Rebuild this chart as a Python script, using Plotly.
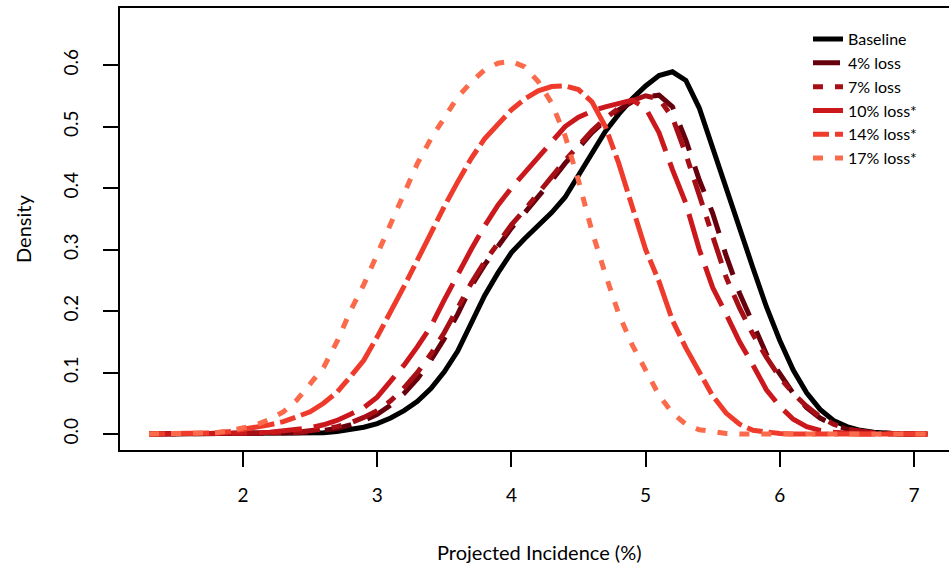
import plotly.graph_objects as go

# x grid (Projected Incidence, %)
x_vals = [round(1.3 + 0.1 * i, 1) for i in range(59)]

baseline = [0, 0, 0, 0, 0, 0, 0, 0, 0, 0, 0, 0,            # 1.3-2.4
            0.001, 0.002, 0.004, 0.007, 0.011, 0.017, 0.026, 0.038, 0.053, 0.074,   # 2.5-3.4
            0.101, 0.135, 0.18, 0.225, 0.262, 0.295, 0.318, 0.34, 0.36, 0.385,     # 3.5-4.4
            0.42, 0.458, 0.492, 0.52, 0.545, 0.566, 0.583, 0.589, 0.575, 0.53,     # 4.5-5.4
            0.465, 0.4, 0.33, 0.27, 0.207, 0.152, 0.104, 0.067, 0.04, 0.022,       # 5.5-6.4
            0.012, 0.006, 0.003, 0.001, 0, 0, 0]                                   # 6.5-7.1

loss4 = [0, 0, 0, 0, 0, 0, 0, 0, 0, 0,                      # 1.3-2.2
         0.001, 0.002, 0.003, 0.005, 0.009, 0.015, 0.022, 0.032, 0.047, 0.066,    # 2.3-3.2
         0.09, 0.12, 0.155, 0.195, 0.24, 0.275, 0.305, 0.335, 0.36, 0.385,        # 3.3-4.2
         0.412, 0.44, 0.465, 0.49, 0.51, 0.527, 0.54, 0.548, 0.551, 0.532,        # 4.3-5.2
         0.478, 0.413, 0.359, 0.29, 0.229, 0.178, 0.13, 0.098, 0.066, 0.043,     # 5.3-6.2
         0.026, 0.015, 0.008, 0.004, 0.002, 0.001, 0, 0, 0]                       # 6.3-7.1

loss7 = [0, 0, 0, 0, 0, 0, 0, 0, 0,                         # 1.3-2.1
         0.001, 0.002, 0.003, 0.005, 0.008, 0.012, 0.018, 0.027, 0.038, 0.054,   # 2.2-3.1
         0.075, 0.1, 0.13, 0.165, 0.205, 0.245, 0.28, 0.31, 0.34, 0.365,         # 3.2-4.1
         0.39, 0.418, 0.445, 0.47, 0.493, 0.513, 0.53, 0.542, 0.55, 0.545,       # 4.2-5.1
         0.515, 0.455, 0.39, 0.322, 0.255, 0.205, 0.162, 0.125, 0.092, 0.066,    # 5.2-6.1
         0.045, 0.028, 0.016, 0.008, 0.004, 0.002, 0.001, 0, 0, 0]               # 6.2-7.1

loss10 = [0, 0, 0, 0, 0, 0, 0,                              # 1.3-1.9
          0.001, 0.002, 0.003, 0.005, 0.007, 0.01, 0.015, 0.022, 0.032, 0.043,   # 2.0-2.9
          0.06, 0.085, 0.112, 0.142, 0.175, 0.218, 0.26, 0.3, 0.338, 0.372,      # 3.0-3.9
          0.4, 0.425, 0.452, 0.478, 0.5, 0.515, 0.525, 0.532, 0.538, 0.543,      # 4.0-4.9
          0.53, 0.49, 0.43, 0.375, 0.3, 0.238, 0.195, 0.15, 0.112, 0.072,       # 5.0-5.9
          0.045, 0.024, 0.012, 0.006, 0.003, 0.001, 0, 0, 0, 0, 0, 0]            # 6.0-7.1

loss14 = [0, 0, 0, 0, 0,                                    # 1.3-1.7
          0.002, 0.004, 0.007, 0.011, 0.015, 0.02, 0.028, 0.036, 0.05, 0.068,    # 1.8-2.7
          0.093, 0.12, 0.158, 0.198, 0.24, 0.283, 0.327, 0.37, 0.41, 0.448,      # 2.8-3.7
          0.48, 0.505, 0.527, 0.545, 0.558, 0.565, 0.566, 0.56, 0.54, 0.5,       # 3.8-4.7
          0.44, 0.37, 0.3, 0.248, 0.185, 0.14, 0.099, 0.062, 0.034, 0.016,      # 4.8-5.7
          0.006, 0.003, 0.001, 0, 0, 0, 0, 0, 0, 0, 0, 0, 0, 0]                  # 5.8-7.1

loss17 = [0, 0, 0.001, 0.001, 0.002, 0.002, 0.005,          # 1.3-1.9
          0.009, 0.015, 0.024, 0.036, 0.055, 0.08, 0.108, 0.15, 0.2, 0.243,      # 2.0-2.9
          0.293, 0.345, 0.395, 0.44, 0.48, 0.515, 0.548, 0.572, 0.592, 0.603,    # 3.0-3.9
          0.606, 0.597, 0.573, 0.538, 0.485, 0.412, 0.33, 0.26, 0.195, 0.145,    # 4.0-4.9
          0.104, 0.063, 0.034, 0.016, 0.007, 0.003, 0.001, 0, 0, 0,              # 5.0-5.9
          0, 0, 0, 0, 0, 0, 0, 0, 0, 0, 0, 0]                                     # 6.0-7.1

series_names = ["Baseline", "4% loss", "7% loss", "10% loss*", "14% loss*", "17% loss*"]
series_values = [baseline, loss4, loss7, loss10, loss14, loss17]
series_colors = ["#000000", "#67000D", "#A50F15", "#CB181D", "#EF3B2C", "#FB6A4A"]
series_dashes = ["solid",
                 "27px,17px",
                 "10px,12px,27px,12px",
                 "43px,12px",
                 "16px,6px,38px,6px",
                 "10px,12px"]

x_ticks = [2, 3, 4, 5, 6, 7]
y_ticks = [0.0, 0.1, 0.2, 0.3, 0.4, 0.5, 0.6]

FONT = "Lato"

fig = go.Figure()
for name, vals, col, dash in zip(series_names, series_values, series_colors, series_dashes):
    fig.add_trace(go.Scatter(x=x_vals, y=vals, mode="lines", name=name,
                             line=dict(color=col, width=5, dash=dash)))

fig.update_layout(
    width=949, height=567,
    margin=dict(l=120, r=0, t=8, b=117),
    paper_bgcolor="white", plot_bgcolor="white",
    font=dict(family=FONT, size=19, color="black"),
    showlegend=True,
    legend=dict(x=(808 - 120) / 829, y=0.968, xanchor="left", yanchor="top",
                font=dict(size=16, family=FONT, color="black"),
                bgcolor="rgba(0,0,0,0)", borderwidth=0),
    annotations=[
        dict(text="Projected Incidence (%)", xref="paper", yref="paper",
             x=(539 - 120) / 829, y=-(552 - 450) / 442, xanchor="center", yanchor="middle",
             showarrow=False, font=dict(size=20, family=FONT, color="black")),
        dict(text="Density", xref="paper", yref="paper",
             x=-(120 - 23) / 829, y=0.5, xanchor="center", yanchor="middle", textangle=-90,
             showarrow=False, font=dict(size=20, family=FONT, color="black")),
    ],
)
fig.update_xaxes(range=[1.0835, 7.2608], tickvals=x_ticks, ticktext=[str(v) for v in x_ticks],
                 showgrid=False, zeroline=False, showline=True, mirror=True,
                 linecolor="black", linewidth=1.5, ticks="outside", ticklen=15,
                 tickwidth=1.5, tickcolor="black", ticklabelstandoff=12)
fig.update_yaxes(range=[-0.026, 0.6927], tickvals=y_ticks, ticktext=[f"{v:.1f}" for v in y_ticks],
                 showgrid=False, zeroline=False, showline=True, mirror=False,
                 linecolor="black", linewidth=1.5, ticks="outside", ticklen=15,
                 tickwidth=1.5, tickcolor="black", tickangle=-90, ticklabelstandoff=18)

fig.write_html("out.html")
